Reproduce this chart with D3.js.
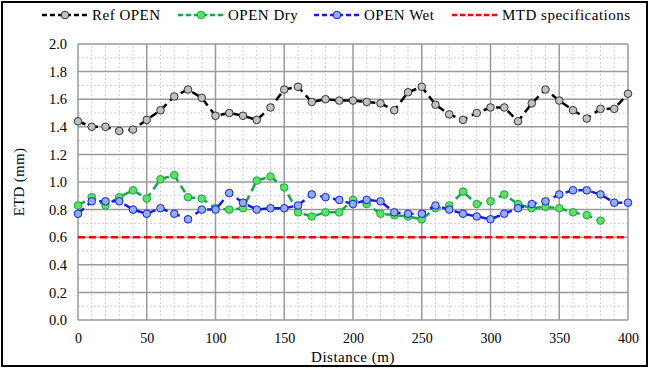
<!DOCTYPE html>
<html>
<head>
<meta charset="utf-8">
<script src="https://cdn.jsdelivr.net/npm/d3@7"></script>
<style>
  body { margin: 0; background: #fff; }
  svg text { font-family: "Liberation Serif", "DejaVu Serif", serif !important; fill: #000; }
</style>
</head>
<body>
<svg id="chart" width="650" height="369"></svg>
<script>
// distances every 10 m
var distRef = d3.range(0, 401, 10);
var distDry = d3.range(0, 381, 10);
var distWet = d3.range(0, 401, 10);

var refOpen = [1.44,1.40,1.40,1.37,1.38,1.45,1.52,1.62,1.67,1.61,1.48,1.50,1.48,1.45,1.54,1.67,1.69,1.58,1.60,1.59,
               1.59,1.58,1.57,1.52,1.65,1.69,1.56,1.49,1.45,1.50,1.54,1.54,1.44,1.57,1.67,1.59,1.52,1.46,1.53,1.53,1.64];
var openDry = [0.83,0.89,0.83,0.89,0.94,0.88,1.02,1.05,0.89,0.88,0.81,0.80,0.81,1.01,1.04,0.96,0.78,0.75,0.78,0.78,
               0.87,0.84,0.77,0.76,0.75,0.73,0.81,0.83,0.93,0.84,0.86,0.91,0.84,0.81,0.82,0.81,0.78,0.76,0.72];
var openWet = [0.77,0.86,0.86,0.86,0.80,0.77,0.81,0.77,0.73,0.80,0.80,0.92,0.85,0.80,0.81,0.81,0.83,0.91,0.89,0.87,
               0.84,0.87,0.86,0.78,0.77,0.77,0.83,0.80,0.77,0.75,0.73,0.77,0.81,0.84,0.86,0.91,0.94,0.94,0.91,0.85,0.85];
var mtdSpec = 0.6;

var xTicks = [0,50,100,150,200,250,300,350,400];
var yTicks = [0,0.2,0.4,0.6,0.8,1.0,1.2,1.4,1.6,1.8,2.0];

var seriesNames = ["Ref OPEN", "OPEN Dry", "OPEN Wet", "MTD specifications"];

var FONT = "'Liberation Serif', 'DejaVu Serif', serif";

var svg = d3.select("#chart");

var x = d3.scaleLinear().domain([0, 400]).range([78, 628]);
var y = d3.scaleLinear().domain([0, 2]).range([320, 44]);

// outer frame
svg.append("rect").attr("x", 2).attr("y", 2).attr("width", 645).attr("height", 364)
   .attr("fill", "none").attr("stroke", "#000").attr("stroke-width", 2);

// minor grid
var g = svg.append("g");
g.selectAll(".vminor").data(d3.range(10, 400, 10).filter(function(d){return d % 50 != 0;}))
  .enter().append("line")
  .attr("x1", function(d){return x(d);}).attr("x2", function(d){return x(d);})
  .attr("y1", y(0)).attr("y2", y(2))
  .attr("stroke", "#cfcfcf").attr("stroke-dasharray", "2,2").attr("stroke-width", 1);
g.selectAll(".hminor").data(d3.range(0.1, 2, 0.2))
  .enter().append("line")
  .attr("x1", x(0)).attr("x2", x(400))
  .attr("y1", function(d){return y(d);}).attr("y2", function(d){return y(d);})
  .attr("stroke", "#cfcfcf").attr("stroke-dasharray", "2,2").attr("stroke-width", 1);

// major grid
g.selectAll(".vmajor").data(xTicks)
  .enter().append("line")
  .attr("x1", function(d){return x(d);}).attr("x2", function(d){return x(d);})
  .attr("y1", y(0)).attr("y2", y(2))
  .attr("stroke", "#9a9a9a").attr("stroke-width", 1.5);
g.selectAll(".hmajor").data(yTicks)
  .enter().append("line")
  .attr("x1", x(0)).attr("x2", x(400))
  .attr("y1", function(d){return y(d);}).attr("y2", function(d){return y(d);})
  .attr("stroke", "#9a9a9a").attr("stroke-width", 1.5);

// axes (labels only)
var xAxis = svg.append("g").attr("transform", "translate(0," + (y(0) + 6) + ")")
  .call(d3.axisBottom(x).tickValues(xTicks).tickSize(0).tickPadding(7).tickFormat(d3.format("d")));
xAxis.select(".domain").remove();
xAxis.attr("font-family", FONT).attr("font-size", 14);

var yAxis = svg.append("g").attr("transform", "translate(" + (x(0) - 9) + ",0)")
  .call(d3.axisLeft(y).tickValues(yTicks).tickSize(0).tickPadding(2).tickFormat(d3.format(".1f")));
yAxis.select(".domain").remove();
yAxis.attr("font-family", FONT).attr("font-size", 14.5);

svg.append("text").attr("x", 353).attr("y", 362).attr("text-anchor", "middle")
   .attr("font-family", FONT).attr("font-size", 15).attr("letter-spacing", 0.5).text("Distance (m)");
svg.append("text").attr("transform", "translate(24,182) rotate(-90)").attr("text-anchor", "middle")
   .attr("font-family", FONT).attr("font-size", 15).attr("letter-spacing", 0.3).text("ETD (mm)");

// series
var styles = [
  {name: seriesNames[0], xs: distRef, ys: refOpen, stroke: "#000000", fill: "#c0c0c0", mstroke: "#333333"},
  {name: seriesNames[1], xs: distDry, ys: openDry, stroke: "#11a84a", fill: "#5fe05f", mstroke: "#11a84a"},
  {name: seriesNames[2], xs: distWet, ys: openWet, stroke: "#1a1ae6", fill: "#8fb0f0", mstroke: "#1a1ae6"}
];

var line = d3.line().x(function(d){return x(d[0]);}).y(function(d){return y(d[1]);});

// MTD spec line
svg.append("path")
  .attr("d", line([[0, mtdSpec], [400, mtdSpec]]))
  .attr("fill", "none").attr("stroke", "#ff0000").attr("stroke-width", 2.5)
  .attr("stroke-dasharray", "7,4");

styles.forEach(function(s){
  var pts = s.xs.map(function(d, i){return [d, s.ys[i]];});
  svg.append("path").attr("d", line(pts))
    .attr("fill", "none").attr("stroke", s.stroke).attr("stroke-width", 2.5)
    .attr("stroke-dasharray", "8,5");
  svg.append("g").selectAll("circle").data(pts).enter().append("circle")
    .attr("cx", function(d){return x(d[0]);}).attr("cy", function(d){return y(d[1]);})
    .attr("r", 3.8).attr("fill", s.fill).attr("stroke", s.mstroke).attr("stroke-width", 1);
});

// legend
var legendItems = [
  {name: seriesNames[0], x: 42, stroke: "#000000", fill: "#c0c0c0", mstroke: "#333333", marker: true},
  {name: seriesNames[1], x: 178, stroke: "#11a84a", fill: "#5fe05f", mstroke: "#11a84a", marker: true},
  {name: seriesNames[2], x: 314, stroke: "#1a1ae6", fill: "#8fb0f0", mstroke: "#1a1ae6", marker: true},
  {name: seriesNames[3], x: 452, stroke: "#ff0000", marker: false}
];
var lg = svg.append("g").selectAll("g").data(legendItems).enter().append("g")
  .attr("transform", function(d){return "translate(" + d.x + ",15)";});
lg.append("line").attr("x1", 0).attr("x2", 46).attr("y1", 0).attr("y2", 0)
  .attr("stroke", function(d){return d.stroke;}).attr("stroke-width", 2.5).attr("stroke-dasharray", "5,3");
lg.filter(function(d){return d.marker;}).append("circle").attr("cx", 23).attr("cy", 0).attr("r", 3.8)
  .attr("fill", function(d){return d.fill;}).attr("stroke", function(d){return d.mstroke;});
lg.append("text").attr("x", 50).attr("y", 5).attr("font-family", FONT).attr("font-size", 15)
  .attr("letter-spacing", 0.5).text(function(d){return d.name;});
</script>
</body>
</html>
